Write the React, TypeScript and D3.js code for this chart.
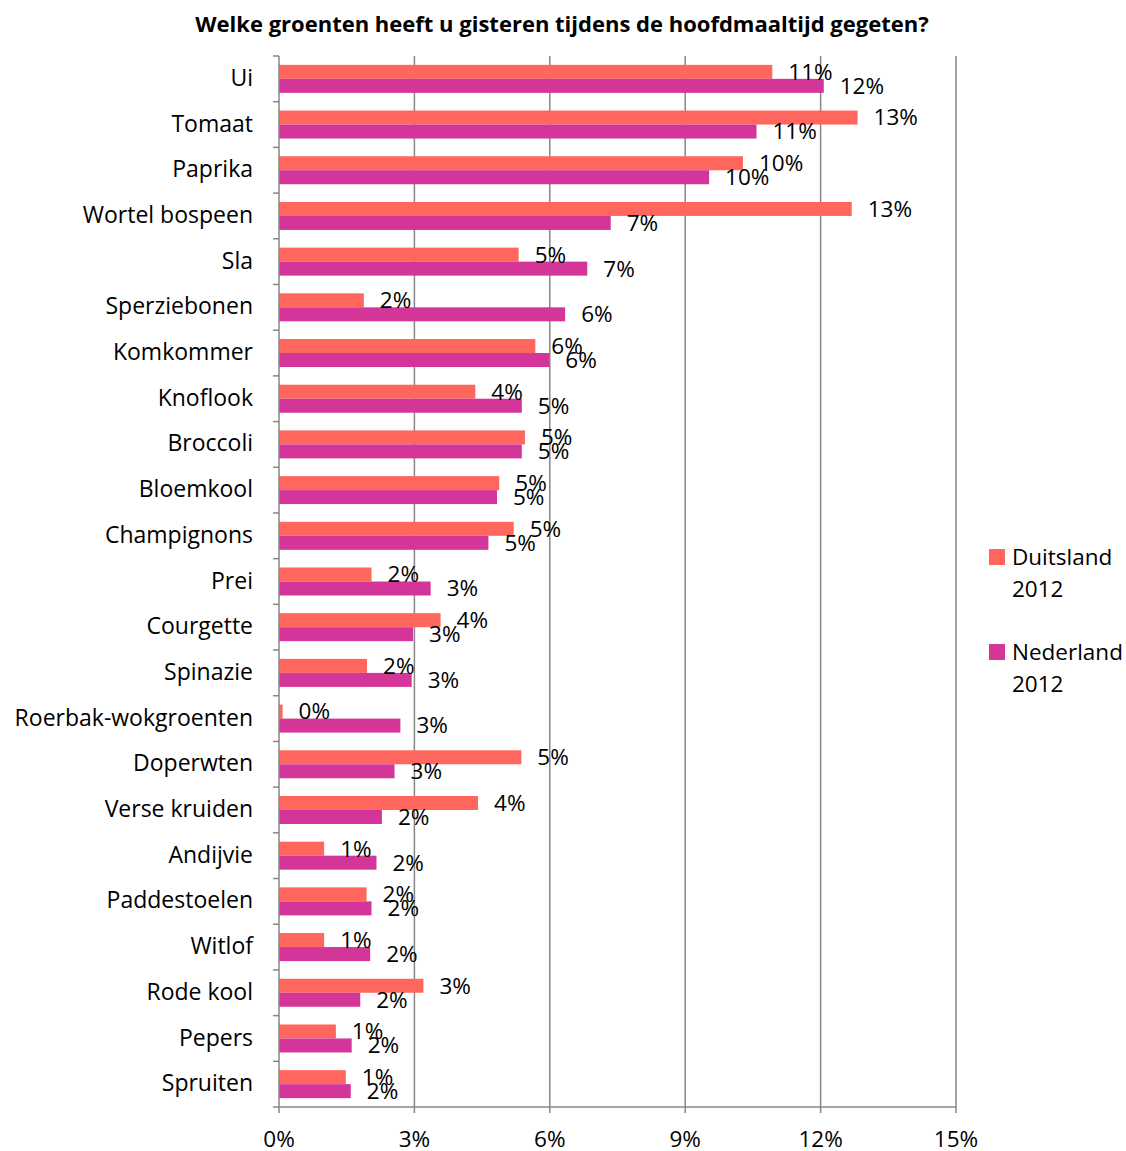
import React from "react";
import * as d3 from "d3";

const categories = ["Ui","Tomaat","Paprika","Wortel bospeen","Sla","Sperziebonen","Komkommer","Knoflook","Broccoli","Bloemkool","Champignons","Prei","Courgette","Spinazie","Roerbak-wokgroenten","Doperwten","Verse kruiden","Andijvie","Paddestoelen","Witlof","Rode kool","Pepers","Spruiten"];
const duitsland = [10.93,12.82,10.28,12.69,5.31,1.88,5.68,4.35,5.45,4.88,5.20,2.05,3.58,1.95,0.08,5.37,4.41,1.0,1.94,1.0,3.2,1.26,1.48];
const nederland = [12.07,10.58,9.53,7.35,6.83,6.34,5.99,5.38,5.38,4.83,4.64,3.36,2.97,2.94,2.69,2.56,2.28,2.16,2.05,2.02,1.80,1.61,1.59];
const seriesNames = [["Duitsland","2012"],["Nederland","2012"]];
const colors = ["#FF675E","#D43599"];
const xTicks = [0,3,6,9,12,15];
const title = "Welke groenten heeft u gisteren tijdens de hoofdmaaltijd gegeten?";

const FONT = "'Open Sans', Lato, sans-serif";
const FS_CAT = 23;
const FS_LBL = 22.5;

export default function App() {
  const W = 1126, H = 1151;
  const left = 279, right = 956, top = 56, bottom = 1107;
  const x = d3.scaleLinear().domain([0, 15]).range([left, right]);
  const y = d3.scaleBand().domain(categories).range([top, bottom]);
  const barH = 14;
  const grid = "#878787";
  return (
    <svg width={W} height={H} style={{position:"absolute",left:0,top:0,background:"#fff"}} fontFamily={FONT}>
      <text x={562} y={32} textAnchor="middle" fontSize={22} fontWeight="bold">{title}</text>
      {xTicks.filter(t=>t>0).map(t=> (
        <line key={"g"+t} x1={x(t)} x2={x(t)} y1={top} y2={bottom} stroke={grid} strokeWidth={1.5}/>
      ))}
      {categories.map((c,i)=>{
        const y0 = (y(c) as number) + (y.bandwidth()-2*barH)/2;
        return (
          <g key={c}>
            <rect x={x(0)} y={y0} width={x(duitsland[i])-x(0)} height={barH} fill={colors[0]}/>
            <rect x={x(0)} y={y0+barH} width={x(nederland[i])-x(0)} height={barH} fill={colors[1]}/>
            <text x={253} y={(y(c) as number)+y.bandwidth()/2 - 1} dy="0.35em" textAnchor="end" fontSize={FS_CAT}>{c}</text>
          </g>
        );
      })}
      {categories.map((c,i)=>{
        const y0 = (y(c) as number) + (y.bandwidth()-2*barH)/2;
        return (
          <g key={"l"+c} fontSize={FS_LBL}>
            <text x={x(duitsland[i])+16} y={y0+barH/2} dy="0.35em">{Math.round(duitsland[i])}%</text>
            <text x={x(nederland[i])+16} y={y0+barH*1.5} dy="0.35em">{Math.round(nederland[i])}%</text>
          </g>
        );
      })}
      <line x1={left} x2={left} y1={top} y2={bottom} stroke={grid} strokeWidth={1.5}/>
      {d3.range(categories.length+1).map(k=>{
        const yy = top + k*y.step();
        return <line key={"yt"+k} x1={left-6} x2={left} y1={yy} y2={yy} stroke={grid} strokeWidth={1.5}/>;
      })}
      <line x1={left} x2={right} y1={bottom} y2={bottom} stroke={grid} strokeWidth={1.5}/>
      {xTicks.map(t=>(
        <g key={"xt"+t}>
          <line x1={x(t)} x2={x(t)} y1={bottom} y2={bottom+6} stroke={grid} strokeWidth={1.5}/>
          <text x={x(t)} y={1139} dy="0.35em" textAnchor="middle" fontSize={FS_LBL}>{t}%</text>
        </g>
      ))}
      {seriesNames.map((s,i)=>{
        const ly = 557 + i*95;
        return (
          <g key={s[0]} fontSize={FS_LBL}>
            <rect x={989} y={ly-8} width={16} height={16} fill={colors[i]}/>
            <text x={1012} y={ly} dy="0.35em">{s[0]}</text>
            <text x={1012} y={ly+32} dy="0.35em">{s[1]}</text>
          </g>
        );
      })}
    </svg>
  );
}
